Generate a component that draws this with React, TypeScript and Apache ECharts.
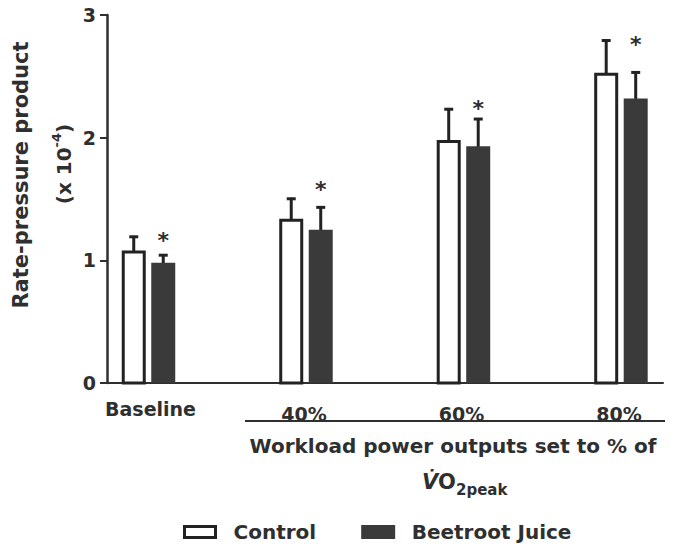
import React, { useEffect, useRef } from 'react';
import * as echarts from 'echarts';

const categories = ['Baseline', '40%', '60%', '80%'];
const controlMean = [1.08, 1.34, 1.98, 2.53];
const controlSD = [0.12, 0.17, 0.26, 0.27];
const beetrootMean = [0.98, 1.25, 1.93, 2.32];
const beetrootSD = [0.07, 0.19, 0.23, 0.22];
const significanceLevel = [1.21, 1.63, 2.29, 2.81];
const yTicks = [0, 1, 2, 3];

const FONT = '"DejaVu Sans", "Liberation Sans", sans-serif';
const INK = '#2f2f2f';
const EDGE = '#222222';
const FILL = '#3a3a3a';
const OFFSET = 14.75;
const BAR_W = 24;

export default function App() {
  const ref = useRef<HTMLDivElement>(null);

  useEffect(() => {
    const chart = echarts.init(ref.current as HTMLDivElement, null, { renderer: 'svg' });

    const makeBar = (offset: number, hollow: boolean) => (params: any, api: any) => {
      const k = api.value(0);
      const v = api.value(1);
      const top = api.value(2);
      const base = api.coord([k, 0]);
      const vt = api.coord([k, v]);
      const et = api.coord([k, top]);
      const cx = base[0] + offset;
      const children: any[] = [
        { type: 'line', shape: { x1: cx, y1: vt[1] + 2, x2: cx, y2: et[1] }, style: { stroke: EDGE, lineWidth: 3 } },
        { type: 'line', shape: { x1: cx - 4.5, y1: et[1] + 1, x2: cx + 4.5, y2: et[1] + 1 }, style: { stroke: EDGE, lineWidth: 3 } },
      ];
      if (hollow) {
        children.push({
          type: 'rect',
          shape: { x: cx - BAR_W / 2 + 1.5, y: vt[1] + 1.5, width: BAR_W - 3, height: base[1] - vt[1] - 1.5 },
          style: { fill: '#ffffff', stroke: EDGE, lineWidth: 3 },
        });
      } else {
        children.push({
          type: 'rect',
          shape: { x: cx - BAR_W / 2, y: vt[1], width: BAR_W, height: base[1] - vt[1] },
          style: { fill: FILL },
        });
      }
      return { type: 'group', children };
    };

    const option: any = {
      animation: false,
      grid: { left: 107, right: 19, top: 15, bottom: 170, containLabel: false },
      xAxis: {
        type: 'value',
        min: -0.2635,
        max: 3.267,
        axisLine: { show: true, onZero: false, lineStyle: { color: INK, width: 2 } },
        axisTick: { show: false },
        axisLabel: { show: false },
        splitLine: { show: false },
      },
      yAxis: {
        type: 'value',
        min: yTicks[0],
        max: yTicks[yTicks.length - 1],
        interval: 1,
        axisLine: { show: true, onZero: false, lineStyle: { color: INK, width: 2.5 } },
        axisTick: { show: true, length: 7, lineStyle: { color: INK, width: 2 } },
        axisLabel: { fontFamily: FONT, fontWeight: 'bold', fontSize: 19, color: INK, margin: 11 },
        splitLine: { show: false },
      },
      legend: {
        left: 178,
        top: 517,
        icon: 'rect',
        itemWidth: 31,
        itemHeight: 11,
        itemGap: 45,
        textStyle: { fontFamily: FONT, fontWeight: 'bold', fontSize: 20, color: INK, padding: [0, 0, 0, 13] },
        data: [
          { name: 'Control', itemStyle: { color: '#ffffff', borderColor: EDGE, borderWidth: 3 } },
          { name: 'Beetroot Juice', itemStyle: { color: FILL, borderColor: FILL, borderWidth: 3 } },
        ],
      },
      graphic: [
        {
          type: 'text', x: 21, y: 175, rotation: Math.PI / 2,
          style: { text: 'Rate-pressure product', fontFamily: FONT, fontWeight: 'bold', fontSize: 21, fill: INK, textAlign: 'center', textVerticalAlign: 'middle' },
        },
        {
          type: 'text', x: 62, y: 164, rotation: Math.PI / 2,
          style: {
            text: '{a|(x 10}{s|-4}{a|)}',
            fontFamily: FONT, fontWeight: 'bold', fontSize: 20, fill: INK, textAlign: 'center', textVerticalAlign: 'middle',
            rich: {
              a: { fontFamily: FONT, fontWeight: 'bold', fontSize: 20, lineHeight: 24, fill: INK, verticalAlign: 'bottom' },
              s: { fontFamily: FONT, fontWeight: 'bold', fontSize: 13, lineHeight: 14, fill: INK, verticalAlign: 'top' },
            },
          },
        },
        { type: 'line', shape: { x1: 245, y1: 421, x2: 665, y2: 421 }, style: { stroke: INK, lineWidth: 2 } },
        {
          type: 'text', x: 453, y: 446,
          style: { text: 'Workload power outputs set to % of', fontFamily: FONT, fontWeight: 'bold', fontSize: 20, fill: INK, textAlign: 'center', textVerticalAlign: 'middle' },
        },
        {
          type: 'text', x: 422, y: 482,
          style: { text: 'V\u0307', fontFamily: FONT, fontWeight: 'bold', fontStyle: 'italic', fontSize: 21, fill: INK, textAlign: 'left', textVerticalAlign: 'middle' },
        },
        {
          type: 'text', x: 438, y: 482,
          style: { text: 'O', fontFamily: FONT, fontWeight: 'bold', fontSize: 21, fill: INK, textAlign: 'left', textVerticalAlign: 'middle' },
        },
        {
          type: 'text', x: 456, y: 490,
          style: { text: '2peak', fontFamily: FONT, fontWeight: 'bold', fontSize: 15, fill: INK, textAlign: 'left', textVerticalAlign: 'middle' },
        },
      ],
      series: [
        {
          name: 'Control',
          type: 'custom',
          encode: { x: 0, y: [1, 2] },
          itemStyle: { color: '#ffffff', borderColor: EDGE, borderWidth: 3 },
          renderItem: makeBar(-OFFSET, true),
          data: controlMean.map((v, i) => [i, v, v + controlSD[i]]),
        },
        {
          name: 'Beetroot Juice',
          type: 'custom',
          encode: { x: 0, y: [1, 2] },
          itemStyle: { color: FILL },
          renderItem: makeBar(OFFSET, false),
          data: beetrootMean.map((v, i) => [i, v, v + beetrootSD[i]]),
        },
        {
          name: 'significance',
          type: 'custom',
          encode: { x: 0, y: 1 },
          renderItem: (params: any, api: any) => {
            const p = api.coord([api.value(0), api.value(1)]);
            return {
              type: 'text', x: p[0] + OFFSET, y: p[1] + 6,
              style: { text: '*', fontFamily: FONT, fontWeight: 'bold', fontSize: 22, fill: INK, textAlign: 'center', textVerticalAlign: 'middle' },
            };
          },
          data: significanceLevel.map((s, i) => [i, s]),
        },
        {
          name: 'categoryLabels',
          type: 'custom',
          encode: { x: 0, y: 1 },
          renderItem: (params: any, api: any) => {
            const i = params.dataIndex;
            const p = api.coord([api.value(0), 0]);
            return {
              type: 'text', x: p[0] + (i === 0 ? 2 : -2), y: p[1] + (i === 0 ? 26 : 31),
              style: { text: categories[i], fontFamily: FONT, fontWeight: 'bold', fontSize: 19, fill: INK, textAlign: 'center', textVerticalAlign: 'middle' },
            };
          },
          data: categories.map((c, i) => [i, 0]),
        },
      ],
    };

    chart.setOption(option);
    return () => chart.dispose();
  }, []);

  return <div ref={ref} style={{ position: 'fixed', left: 0, top: 0, width: 682, height: 553, background: '#fff' }} />;
}
